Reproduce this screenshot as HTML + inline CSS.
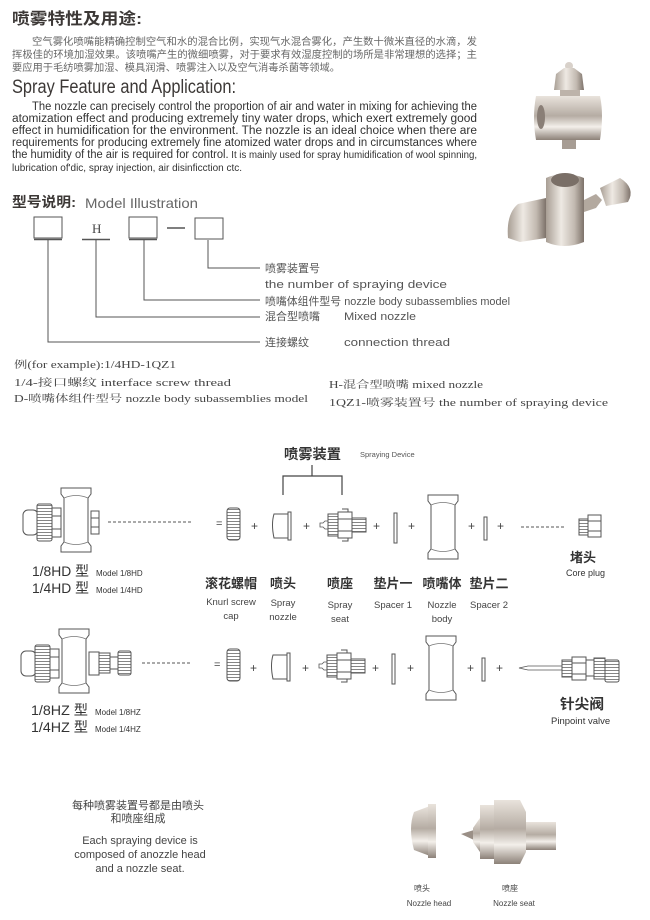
<!DOCTYPE html>
<html><head><meta charset="utf-8"><style>
html,body{margin:0;padding:0;background:#fff;}
svg{display:block;}
.cn{font-family:"Liberation Sans","Noto Sans CJK SC",sans-serif;}
.sf{font-family:"Liberation Serif","Noto Serif CJK SC",serif;}
</style></head><body>
<svg width="650" height="920" viewBox="0 0 650 920" xmlns="http://www.w3.org/2000/svg">
<defs>
<linearGradient id="met" x1="0" x2="0" y1="0" y2="1"><stop offset="0" stop-color="#e9e3dc"/><stop offset=".45" stop-color="#b5aca3"/><stop offset=".7" stop-color="#f3efea"/><stop offset="1" stop-color="#8c8178"/></linearGradient>
<linearGradient id="metH" x1="0" x2="1" y1="0" y2="0"><stop offset="0" stop-color="#a89e94"/><stop offset=".4" stop-color="#eee9e3"/><stop offset=".75" stop-color="#c2b9b0"/><stop offset="1" stop-color="#7d726a"/></linearGradient>
<pattern id="knurl" width="3" height="3" patternUnits="userSpaceOnUse"><rect width="3" height="3" fill="#fff"/><path d="M0 1.5H3" stroke="#777" stroke-width="0.9"/></pattern>
<g id="body"><path d="M0 0H30V6L27 10V54L30 58V64H0V58L3 54V10L0 6Z" fill="#fff" stroke="#555" stroke-width="1"/><path d="M3 10Q15 5 27 10M3 54Q15 59 27 54" fill="none" stroke="#777" stroke-width=".8"/></g>
<g id="knurlcap"><rect x="0" y="0" width="13" height="32" rx="3" fill="url(#knurl)" stroke="#555"/></g>
<g id="nozz"><path d="M3 4Q0 14 3 28H19V4Z" fill="#fff" stroke="#555"/><rect x="17" y="2" width="3" height="28" fill="#fff" stroke="#555"/></g>
<g id="seat"><path d="M0 14H3L5 12H8V20H5L3 18H0Z" fill="#fff" stroke="#555" stroke-width=".8"/><rect x="8" y="5" width="10" height="22" fill="url(#knurl)" stroke="#555"/><path d="M18 3H32V29H18Z" fill="#fff" stroke="#555"/><path d="M18 10H32M18 22H32M22 0H28V3M22 32H28V29" fill="none" stroke="#555"/><rect x="32" y="9" width="14" height="14" fill="url(#knurl)" stroke="#555"/></g>
</defs>
<rect width="650" height="920" fill="#fff"/>
<g fill="#3c3836">
<text x="12" y="24" class="cn" font-size="16" font-weight="bold" textLength="130" lengthAdjust="spacingAndGlyphs">喷雾特性及用途:</text>
<g class="cn" font-size="10" fill="#666">
<text x="32" y="45" textLength="445" lengthAdjust="spacingAndGlyphs">空气雾化喷嘴能精确控制空气和水的混合比例，实现气水混合雾化，产生数十微米直径的水滴，发</text>
<text x="12" y="58" textLength="465" lengthAdjust="spacingAndGlyphs">挥极佳的环境加湿效果。该喷嘴产生的微细喷雾，对于要求有效湿度控制的场所是非常理想的选择；主</text>
<text x="12" y="71" textLength="328" lengthAdjust="spacingAndGlyphs">要应用于毛纺喷雾加湿、模具润滑、喷雾注入以及空气消毒杀菌等领域。</text>
</g>
<text x="12" y="93" font-family="Liberation Sans" font-size="19" textLength="224" lengthAdjust="spacingAndGlyphs">Spray Feature and Application:</text>
<g font-family="Liberation Sans" font-size="11.5" fill="#333">
<text x="32" y="110" textLength="445" lengthAdjust="spacingAndGlyphs">The nozzle can precisely control the proportion of air and water in mixing for achieving the</text>
<text x="12" y="122" textLength="465" lengthAdjust="spacingAndGlyphs">atomization effect and producing extremely tiny water drops, which exert extremely good</text>
<text x="12" y="134" textLength="465" lengthAdjust="spacingAndGlyphs">effect in humidification for the environment. The nozzle is an ideal choice when there are</text>
<text x="12" y="146" textLength="465" lengthAdjust="spacingAndGlyphs">requirements for producing extremely fine atomized water drops and in circumstances where</text>
<text x="12" y="158" textLength="465" lengthAdjust="spacingAndGlyphs"><tspan>the humidity of the air is required for control.</tspan><tspan font-size="10"> It is mainly used for spray humidification of wool spinning,</tspan></text>
<text x="12" y="171" font-size="10" textLength="230" lengthAdjust="spacingAndGlyphs">lubrication of'dic, spray injection, air disinficction ctc.</text>
</g>
<text x="12" y="207" class="cn" font-size="14" font-weight="bold" textLength="64" lengthAdjust="spacingAndGlyphs">型号说明:</text>
<text x="85" y="208" font-family="Liberation Sans" font-size="14" fill="#666" textLength="113" lengthAdjust="spacingAndGlyphs">Model Illustration</text>
</g>
<g stroke="#555" fill="none" stroke-width="1">
<rect x="34" y="217" width="28" height="21"/><path d="M34 239.5H62" stroke-width="1.5"/>
<path d="M82 239.5H110" stroke-width="1.5"/>
<rect x="129" y="217" width="28" height="21"/><path d="M129 239.5H157" stroke-width="1.5"/>
<path d="M167 228H185" stroke-width="1.5"/>
<rect x="195" y="218" width="28" height="21"/>
<path d="M208 240V268H260M144 240V300H260M96 240V317H260M48 240V342H260"/>
</g>
<text x="92" y="233" class="sf" font-size="13" fill="#444">H</text>
<g class="cn" font-size="11" fill="#555">
<text x="265" y="272">喷雾装置号</text>
<text x="265" y="288" font-family="Liberation Sans" font-size="11" textLength="182" lengthAdjust="spacingAndGlyphs">the number of spraying device</text>
<text x="265" y="305" textLength="245" lengthAdjust="spacingAndGlyphs">喷嘴体组件型号 nozzle body subassemblies model</text>
<text x="265" y="320">混合型喷嘴</text><text x="344" y="320" textLength="72" lengthAdjust="spacingAndGlyphs">Mixed nozzle</text>
<text x="265" y="346">连接螺纹</text><text x="344" y="346" textLength="106" lengthAdjust="spacingAndGlyphs">connection thread</text>
</g>
<g class="sf" font-size="10" fill="#444">
<text x="14" y="368" textLength="162" lengthAdjust="spacingAndGlyphs">例(for example):1/4HD-1QZ1</text>
<text x="14" y="386" textLength="217" lengthAdjust="spacingAndGlyphs">1/4-接口螺纹 interface screw thread</text>
<text x="14" y="402" textLength="294" lengthAdjust="spacingAndGlyphs">D-喷嘴体组件型号 nozzle body subassemblies model</text>
<text x="329" y="388" textLength="154" lengthAdjust="spacingAndGlyphs">H-混合型喷嘴 mixed nozzle</text>
<text x="329" y="406" textLength="279" lengthAdjust="spacingAndGlyphs">1QZ1-喷雾装置号 the number of spraying device</text>
</g>
<!-- top photos -->
<g>
<ellipse cx="569" cy="66" rx="4" ry="4" fill="#d8d1ca"/>
<path d="M556 74L564 68H574L582 74L584 90H554Z" fill="url(#metH)"/>
<path d="M560 90H580V96H560Z" fill="#bdb3aa"/>
<path d="M536 96H600Q604 115 600 140H536Q532 118 536 96Z" fill="url(#met)"/>
<ellipse cx="541" cy="117" rx="4" ry="12" fill="#8a7f77"/>
<rect x="562" y="140" width="14" height="9" fill="#a79d94"/>
<path d="M546 178Q564 170 584 178V242Q564 250 546 242Z" fill="url(#metH)"/>
<ellipse cx="565" cy="180" rx="14" ry="7" fill="#7a6f67"/>
<path d="M508 238Q506 214 518 204L546 198V238L520 242Z" fill="url(#metH)"/>
<path d="M584 200L596 194L602 200L596 208L584 212Z" fill="#b3a99f"/>
<path d="M600 188L620 178Q636 188 628 202L606 206Z" fill="url(#metH)"/>
</g>
<!-- section 2 -->
<text x="284" y="459" class="cn" font-size="14" font-weight="bold" fill="#333" textLength="57" lengthAdjust="spacingAndGlyphs">喷雾装置</text>
<text x="360" y="457" font-family="Liberation Sans" font-size="7.5" fill="#555">Spraying Device</text>
<path d="M312 465V476M283 495V476H342V495" stroke="#444" fill="none" stroke-width="1.2"/>
<g id="row1">
<rect x="23" y="510" width="15" height="25" rx="5" fill="#fff" stroke="#555"/>
<rect x="37" y="504" width="15" height="37" rx="2" fill="url(#knurl)" stroke="#555"/>
<rect x="52" y="508" width="9" height="29" fill="#fff" stroke="#555"/>
<path d="M52 516H61M52 529H61" stroke="#555"/>
<use href="#body" x="61" y="488"/>
<rect x="91" y="511" width="8" height="23" fill="#fff" stroke="#555"/>
<path d="M91 518H99M91 527H99" stroke="#555"/>
<path d="M108 522H192" stroke="#555" stroke-dasharray="3,2"/>
<text x="216" y="527" font-family="Liberation Sans" font-size="11" fill="#444">=</text>
<use href="#knurlcap" x="227" y="508"/>
<use href="#nozz" x="271" y="510"/>
<use href="#seat" x="320" y="509"/>
<rect x="394" y="513" width="3" height="30" fill="#fff" stroke="#555"/>
<use href="#body" x="428" y="495"/>
<rect x="484" y="517" width="3" height="23" fill="#fff" stroke="#555"/>
</g>
<g font-family="Liberation Sans" font-size="12" fill="#444">
<text x="251" y="530">+</text><text x="303" y="530">+</text><text x="373" y="530">+</text><text x="408" y="530">+</text><text x="468" y="530">+</text><text x="497" y="530">+</text>
</g>
<path d="M521 527H565" stroke="#555" stroke-dasharray="3,2"/>
<rect x="579" y="519" width="9" height="16" fill="url(#knurl)" stroke="#555"/>
<rect x="588" y="515" width="13" height="22" fill="#fff" stroke="#555"/>
<path d="M588 521H601M588 531H601" stroke="#555"/>
<g class="cn" fill="#333">
<text x="570" y="562" font-size="13" font-weight="bold">堵头</text>
<text x="566" y="576" font-family="Liberation Sans" font-size="9">Core plug</text>
<text x="32" y="576" font-size="14" textLength="57" lengthAdjust="spacingAndGlyphs">1/8HD 型</text>
<text x="32" y="593" font-size="14" textLength="57" lengthAdjust="spacingAndGlyphs">1/4HD 型</text>
<text x="96" y="576" font-size="8">Model 1/8HD</text>
<text x="96" y="593" font-size="8">Model 1/4HD</text>
</g>
<g class="cn" fill="#333" text-anchor="middle">
<g font-size="13" font-weight="bold">
<text x="231" y="588">滚花螺帽</text><text x="283" y="588">喷头</text><text x="340" y="588">喷座</text><text x="393" y="588">垫片一</text><text x="442" y="588">喷嘴体</text><text x="489" y="588">垫片二</text>
</g>
<g font-family="Liberation Sans" font-size="9.5" fill="#444">
<text x="231" y="605">Knurl screw</text><text x="231" y="619">cap</text>
<text x="283" y="606">Spray</text><text x="283" y="620">nozzle</text>
<text x="340" y="608">Spray</text><text x="340" y="622">seat</text>
<text x="393" y="608">Spacer 1</text>
<text x="442" y="608">Nozzle</text><text x="442" y="622">body</text>
<text x="489" y="608">Spacer 2</text>
</g>
</g>
<g transform="translate(-2,141)">
<rect x="23" y="510" width="15" height="25" rx="5" fill="#fff" stroke="#555"/>
<rect x="37" y="504" width="15" height="37" rx="2" fill="url(#knurl)" stroke="#555"/>
<rect x="52" y="508" width="9" height="29" fill="#fff" stroke="#555"/>
<path d="M52 516H61M52 529H61" stroke="#555"/>
<use href="#body" x="61" y="488"/>
<rect x="91" y="511" width="10" height="23" fill="#fff" stroke="#555"/>
<rect x="101" y="512" width="11" height="20" fill="url(#knurl)" stroke="#555"/>
<rect x="112" y="516" width="8" height="12" fill="#fff" stroke="#555"/>
<rect x="120" y="510" width="13" height="24" rx="2" fill="url(#knurl)" stroke="#555"/>
<path d="M144 522H194" stroke="#555" stroke-dasharray="3,2"/>
<text x="216" y="527" font-family="Liberation Sans" font-size="11" fill="#444">=</text>
<use href="#knurlcap" x="229" y="508"/>
<use href="#nozz" x="272" y="510"/>
<use href="#seat" x="321" y="509"/>
<rect x="394" y="513" width="3" height="30" fill="#fff" stroke="#555"/>
<use href="#body" x="428" y="495"/>
<rect x="484" y="517" width="3" height="23" fill="#fff" stroke="#555"/>
</g>
<g font-family="Liberation Sans" font-size="12" fill="#444">
<text x="250" y="672">+</text><text x="302" y="672">+</text><text x="372" y="672">+</text><text x="407" y="672">+</text><text x="467" y="672">+</text><text x="496" y="672">+</text>
</g>
<path d="M519 668L528 666H562V670H528Z" fill="#fff" stroke="#555" stroke-width=".8"/>
<rect x="562" y="660" width="10" height="17" fill="url(#knurl)" stroke="#555"/>
<rect x="572" y="657" width="14" height="23" fill="#fff" stroke="#555"/>
<path d="M572 663H586M572 674H586" stroke="#555"/>
<rect x="586" y="660" width="8" height="16" fill="#fff" stroke="#555"/>
<rect x="594" y="658" width="11" height="21" fill="url(#knurl)" stroke="#555"/>
<rect x="605" y="660" width="14" height="22" rx="2" fill="url(#knurl)" stroke="#555"/>
<g class="cn" fill="#333">
<text x="560" y="709" font-size="14" font-weight="bold" textLength="44" lengthAdjust="spacingAndGlyphs">针尖阀</text>
<text x="551" y="724" font-family="Liberation Sans" font-size="9.5">Pinpoint valve</text>
<text x="31" y="715" font-size="14" textLength="57" lengthAdjust="spacingAndGlyphs">1/8HZ 型</text>
<text x="31" y="732" font-size="14" textLength="57" lengthAdjust="spacingAndGlyphs">1/4HZ 型</text>
<text x="95" y="715" font-size="8">Model 1/8HZ</text>
<text x="95" y="732" font-size="8">Model 1/4HZ</text>
</g>
<g class="cn" fill="#444" text-anchor="middle" font-size="11">
<text x="138" y="809">每种喷雾装置号都是由喷头</text>
<text x="138" y="822">和喷座组成</text>
<g font-family="Liberation Sans" font-size="11">
<text x="140" y="844">Each spraying device is</text>
<text x="140" y="858">composed of anozzle head</text>
<text x="140" y="872">and a nozzle seat.</text>
</g>
<g font-size="8">
<text x="422" y="891">喷头</text><text x="510" y="891">喷座</text>
<text x="429" y="906">Nozzle head</text><text x="514" y="906">Nozzle seat</text>
</g>
</g>
<g>
<path d="M414 812Q408 828 414 850L430 856V806Z" fill="url(#met)"/>
<rect x="428" y="804" width="8" height="54" fill="url(#met)"/>
<path d="M461 834L474 830V840Z" fill="#9a8f86"/>
<path d="M473 828L480 818V852L473 842Z" fill="url(#met)"/>
<rect x="480" y="805" width="14" height="54" fill="url(#met)"/>
<path d="M494 800H520L526 812V852L520 864H494Z" fill="url(#met)"/>
<rect x="526" y="822" width="30" height="28" fill="url(#met)"/>
</g>
</svg>
</body></html>
